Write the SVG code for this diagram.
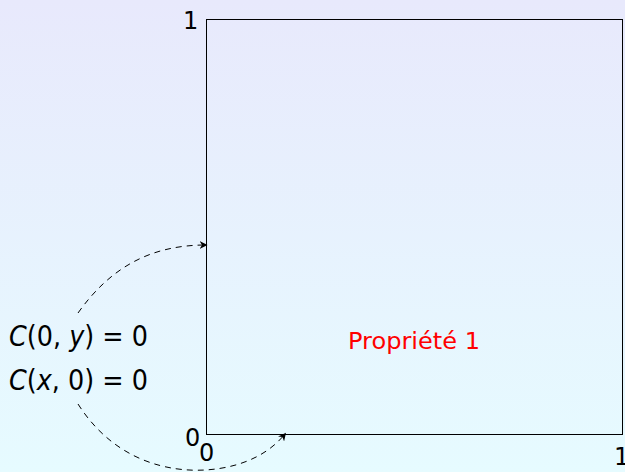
<svg xmlns="http://www.w3.org/2000/svg" width="625" height="472" viewBox="0 0 625 472">
<defs>
<linearGradient id="bg" x1="0" y1="0" x2="0" y2="1">
<stop offset="0" stop-color="#e8e9fc"/>
<stop offset="1" stop-color="#e6fbff"/>
</linearGradient>
<marker id="ah" viewBox="0 0 10 10" refX="8" refY="5" markerWidth="8" markerHeight="8" orient="auto" markerUnits="userSpaceOnUse">
<path d="M0,0 L10,5 L0,10 L3,5 Z" fill="#000"/>
</marker>
<style>
.t{font-family:"DejaVu Sans","Liberation Sans",sans-serif;fill:#000}
.m{font-family:"DejaVu Sans","Liberation Sans",sans-serif;font-size:28px;fill:#000}
.i{font-style:italic}
.c{fill:none;stroke:#000;stroke-width:1;stroke-dasharray:6,5}
</style>
</defs>
<rect width="625" height="472" fill="url(#bg)"/>
<g id="square">
<rect x="206.5" y="19.5" width="416" height="415" fill="none" stroke="#000" stroke-width="1"/>
</g>
<g id="labels">
<text class="t" x="183" y="29" font-size="24">1</text>
<text class="t" x="185" y="446" font-size="24">0</text>
<text class="t" x="199" y="461" font-size="24">0</text>
<text class="t" x="614" y="465" font-size="24">1</text>
</g>
<g id="prop">
<text x="348" y="349" font-family="DejaVu Sans,Liberation Sans,sans-serif" font-size="23" fill="#ff0000" textLength="132" lengthAdjust="spacingAndGlyphs">Propriété 1</text>
</g>
<g id="eq1">
<text class="m" x="9" y="346" textLength="139" lengthAdjust="spacingAndGlyphs"><tspan class="i">C</tspan>(0, <tspan class="i">y</tspan>) = 0</text>
</g>
<g id="eq2">
<text class="m" x="9" y="390" textLength="139" lengthAdjust="spacingAndGlyphs"><tspan class="i">C</tspan>(<tspan class="i">x</tspan>, 0) = 0</text>
</g>
<g id="connectors">
<path class="c" d="M78,313 C110,268 150,245 206,245" marker-end="url(#ah)"/>
<path class="c" d="M78,404 C115,462 170,472 205,470 C240,468 268,455 285,434" marker-end="url(#ah)"/>
</g>
</svg>
